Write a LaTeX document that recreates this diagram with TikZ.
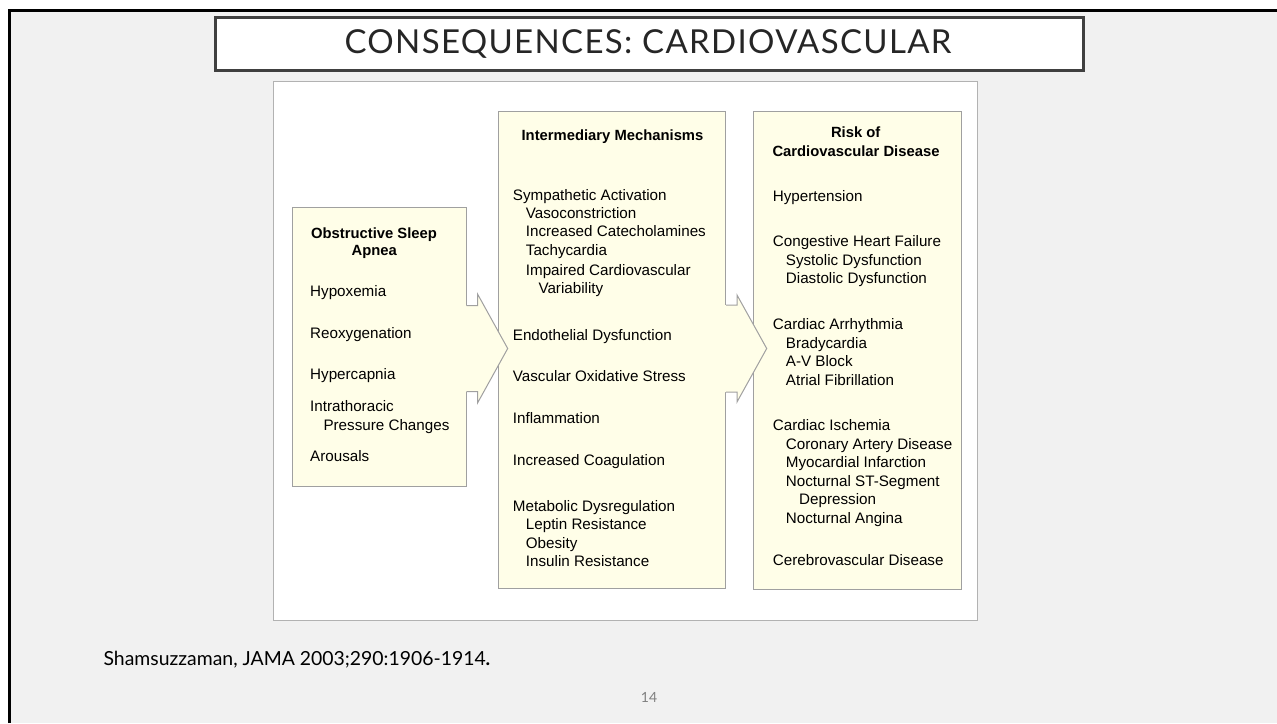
\documentclass[tikz,border=0pt]{standalone}
\usepackage{fontspec}
\usetikzlibrary{calc}
\newfontfamily\diagfont{Liberation Sans}
\newfontfamily\titlefont[LetterSpace=4]{Lato}
\newfontfamily\citefont{Lato}
\definecolor{boxfill}{RGB}{255,254,232}
\definecolor{boxline}{RGB}{160,160,160}
\definecolor{pagebg}{RGB}{241,241,241}
\definecolor{titleline}{RGB}{64,64,64}
\definecolor{imgline}{RGB}{178,178,178}
\definecolor{titletext}{RGB}{38,38,38}
\tikzset{
  box/.style={draw=boxline, fill=boxfill, line width=1pt, anchor=north west, inner sep=0pt},
  itm/.style={anchor=base west, inner sep=0pt, font=\diagfont\fontsize{15.2}{18}\selectfont},
  hd/.style={anchor=base, inner sep=0pt, font=\diagfont\bfseries\fontsize{14.8}{18}\selectfont},
  arrowline/.style={draw=boxline, line width=1pt, line join=miter},
}
\newcommand\blockarrow[4]{%
  \fill[boxfill] ($(#1)+(-2,-#3)$) -- ($(#1)+(11,-#3)$) -- ($(#1)+(11,-#4)$) -- (#2)
    -- ($(#1)+(11,#4)$) -- ($(#1)+(11,#3)$) -- ($(#1)+(-2,#3)$) -- cycle;
  \draw[arrowline] ($(#1)+(0,-#3)$) -- ($(#1)+(11,-#3)$) -- ($(#1)+(11,-#4)$) -- (#2)
    -- ($(#1)+(11,#4)$) -- ($(#1)+(11,#3)$) -- ($(#1)+(0,#3)$);
}
\begin{document}
\begin{tikzpicture}[x=1pt,y=-1pt]
\useasboundingbox (0,0) rectangle (1277,723);
\fill[white] (0,0) rectangle (1277,723);
\fill[pagebg] (9.5,10.5) rectangle (1277,723);
\draw[black, line width=3pt] (9.5,723) -- (9.5,10.5) -- (1277,10.5);

% title
\node[draw=titleline, line width=3pt, fill=white, minimum width=867.7pt, minimum height=53.3pt, anchor=north west, inner sep=0pt] (titlebox) at (214,16) {};
\node[anchor=base, inner sep=0pt, text=titletext, font=\titlefont\fontsize{33}{40}\selectfont] (title) at (648,53.3) {CONSEQUENCES: CARDIOVASCULAR};

% figure area
\node[draw=imgline, line width=1pt, fill=white, minimum width=704.4pt, minimum height=539pt, anchor=north west, inner sep=0pt] (figure) at (272.8,81) {};

% boxes
\node[box, minimum width=173.4pt, minimum height=278.7pt] (osa) at (292.3,207.3) {};
\node[box, minimum width=227.5pt, minimum height=477.6pt] (mech) at (497.5,110.7) {};
\node[box, minimum width=207.4pt, minimum height=478.3pt] (risk) at (753.3,110.7) {};

% arrows
\coordinate (a1s) at (osa.east |- 0,348.5);
\coordinate (a1t) at ($(mech.west |- 0,348.5)+(10.2,0)$);
\coordinate (a2s) at (mech.east |- 0,348.5);
\coordinate (a2t) at ($(risk.west |- 0,348.5)+(13.4,0)$);
\blockarrow{a1s}{a1t}{43}{54.2}
\blockarrow{a2s}{a2t}{43.5}{53.5}

% left box text
\node[hd] (l0a) at (374,238.3) {Obstructive Sleep};
\node[hd] (l0b) at (374.3,255.7) {Apnea};
\node[itm] (l1) at (310,296.7) {Hypoxemia};
\node[itm] (l2) at (310,338.3) {Reoxygenation};
\node[itm] (l3) at (310,379) {Hypercapnia};
\node[itm] (l4) at (310,411.7) {Intrathoracic};
\node[itm] (l5) at (323.3,430) {Pressure Changes};
\node[itm] (l6) at (310,461.7) {Arousals};

% middle box text
\node[hd] (m0) at (612.5,140.7) {Intermediary Mechanisms};
\node[itm] (m1) at (512.7,200) {Sympathetic Activation};
\node[itm] (m2) at (525.7,218.3) {Vasoconstriction};
\node[itm] (m3) at (525.7,236.7) {Increased Catecholamines};
\node[itm] (m4) at (525.7,255.7) {Tachycardia};
\node[itm] (m5) at (525.7,275) {Impaired Cardiovascular};
\node[itm] (m6) at (538.3,293.3) {Variability};
\node[itm] (m7) at (512.7,340) {Endothelial Dysfunction};
\node[itm] (m8) at (512.7,381) {Vascular Oxidative Stress};
\node[itm] (m9) at (512.7,423.3) {Inflammation};
\node[itm] (m10) at (512.7,465) {Increased Coagulation};
\node[itm] (m11) at (512.7,511) {Metabolic Dysregulation};
\node[itm] (m12) at (525.7,529) {Leptin Resistance};
\node[itm] (m13) at (525.7,548.3) {Obesity};
\node[itm] (m14) at (525.7,566.7) {Insulin Resistance};

% right box text
\node[hd] (r0a) at (855.7,137.7) {Risk of};
\node[hd] (r0b) at (856,156) {Cardiovascular Disease};
\node[itm] (r1) at (772.7,201.7) {Hypertension};
\node[itm] (r2) at (772.7,246.7) {Congestive Heart Failure};
\node[itm] (r3) at (785.7,265) {Systolic Dysfunction};
\node[itm] (r4) at (785.7,283.3) {Diastolic Dysfunction};
\node[itm] (r5) at (772.7,329.3) {Cardiac Arrhythmia};
\node[itm] (r6) at (785.7,348.3) {Bradycardia};
\node[itm] (r7) at (785.7,366.7) {A-V Block};
\node[itm] (r8) at (785.7,385) {Atrial Fibrillation};
\node[itm] (r9) at (772.7,430.7) {Cardiac Ischemia};
\node[itm] (r10) at (785.7,449) {Coronary Artery Disease};
\node[itm] (r11) at (785.7,467.7) {Myocardial Infarction};
\node[itm] (r12) at (785.7,486) {Nocturnal ST-Segment};
\node[itm] (r13) at (799,504.3) {Depression};
\node[itm] (r14) at (785.7,523.3) {Nocturnal Angina};
\node[itm] (r15) at (772.7,565) {Cerebrovascular Disease};

% footer
\node[anchor=base west, inner sep=0pt, font=\citefont\fontsize{19.4}{22}\selectfont] (cite) at (103.4,665) {Shamsuzzaman, JAMA 2003;290:1906-1914{\bfseries .}};
\node[anchor=base, inner sep=0pt, text=black!50, font=\citefont\fontsize{14}{16}\selectfont] (pagenum) at (649,702.3) {14};
\end{tikzpicture}
\end{document}
